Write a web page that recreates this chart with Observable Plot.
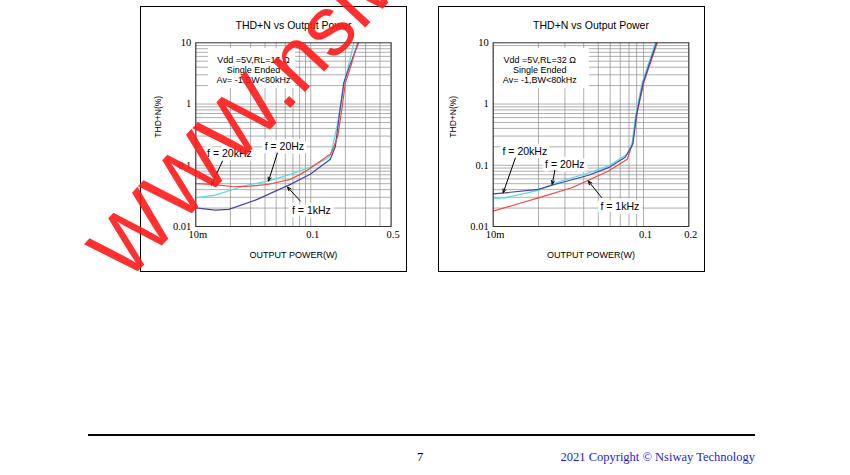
<!DOCTYPE html>
<html>
<head>
<meta charset="utf-8">
<script src="https://cdn.jsdelivr.net/npm/d3@7"></script>
<script src="https://cdn.jsdelivr.net/npm/@observablehq/plot@0.6"></script>
<style>
  html, body { margin: 0; padding: 0; background: #fff; }
  #page { position: relative; width: 850px; height: 475px; overflow: hidden; background: #fff; }
  .chart { position: absolute; }
  .box { position: absolute; border: 1.5px solid #000; box-sizing: border-box; pointer-events: none; }
  #rule { position: absolute; left: 88px; top: 434px; width: 667px; height: 2px; background: #000; }
  #pageno { position: absolute; left: 417px; top: 450px; font: 12.5px "Liberation Serif", serif; color: #000; }
  #copy { position: absolute; right: 95px; top: 450px; font: 12.5px "Liberation Serif", serif; color: #1d1dd8; white-space: nowrap; }
  #wm { position: absolute; left: 0; top: 0; pointer-events: none; }
</style>
</head>
<body>
<div id="page">
  <div id="left" class="chart" style="left:140px;top:6px"></div>
  <div class="box" style="left:140px;top:6px;width:267px;height:266px"></div>
  <div id="right" class="chart" style="left:438px;top:6px"></div>
  <div class="box" style="left:438px;top:6px;width:267px;height:266px"></div>
  <div id="rule"></div>
  <div id="pageno">7</div>
  <div id="copy">2021 Copyright © Nsiway Technology</div>
  <svg id="wm" width="850" height="475"></svg>
</div>
<script>
// ---------- shared text ----------
const chartTitle = "THD+N vs Output Power";
const xAxisLabel = "OUTPUT POWER(W)";
const yAxisLabel = "THD+N(%)";
const yTicks = [0.01, 0.1, 1, 10];
const yTickLabels = ["0.01", "0.1", "1", "10"];

// ---------- left chart: RL = 16 ohm ----------
const xTicksL = [0.01, 0.1, 0.5];
const xTickLabelsL = ["10m", "0.1", "0.5"];
const condL = "Vdd =5V,RL=16 Ω\nSingle Ended\nAv= -1,BW<80kHz";
const powerL_red  = [0.010, 0.0139, 0.0214, 0.030, 0.0431, 0.0665, 0.081, 0.096, 0.148, 0.158, 0.172, 0.186, 0.200, 0.222, 0.256];
const thdL_red    = [0.050, 0.0488, 0.0446, 0.0455, 0.049, 0.059, 0.071, 0.086, 0.151, 0.195, 0.30, 0.80, 2.2, 4.0, 10];
const powerL_cyan = [0.010, 0.0148, 0.0261, 0.0446, 0.0665, 0.099, 0.143, 0.150, 0.170, 0.194, 0.237];
const thdL_cyan   = [0.0294, 0.0326, 0.0458, 0.0568, 0.0711, 0.093, 0.133, 0.155, 0.45, 2.0, 10];
const powerL_blue = [0.010, 0.0148, 0.0194, 0.0342, 0.0665, 0.099, 0.148, 0.164, 0.177, 0.194, 0.215, 0.260];
const thdL_blue   = [0.0202, 0.0185, 0.019, 0.0277, 0.0488, 0.0711, 0.125, 0.205, 0.65, 2.26, 3.9, 10];
const freqLabelsL = ["f = 20kHz", "f = 20Hz", "f = 1kHz"];
const labelPowerL = [0.0196, 0.0590, 0.1014];
const labelThdL   = [0.153, 0.1995, 0.0185];
const arrowFromPowerL = [0.01707, 0.0513, 0.0813];
const arrowFromThdL   = [0.1176, 0.159, 0.026];
const arrowToPowerL   = [0.01369, 0.0429, 0.0627];
const arrowToThdL     = [0.0475, 0.0553, 0.044];
const condBoxL = {x1: 0.0129, x2: 0.0737, y1: 8.07, y2: 1.78, cx: 0.03175, cy: 3.65};

// ---------- right chart: RL = 32 ohm ----------
const xTicksR = [0.01, 0.1, 0.2];
const xTickLabelsR = ["10m", "0.1", "0.2"];
const condR = "Vdd =5V,RL=32 Ω\nSingle Ended\nAv= -1,BW<80kHz";
const powerR_blue = [0.010, 0.012, 0.020, 0.0259, 0.043, 0.0585, 0.0755, 0.0849, 0.0899, 0.0995, 0.1219];
const thdR_blue   = [0.0342, 0.0355, 0.0404, 0.0489, 0.0686, 0.0914, 0.135, 0.221, 0.686, 2.26, 10];
const powerR_cyan = [0.010, 0.012, 0.020, 0.0259, 0.043, 0.0585, 0.0779, 0.0841, 0.0885, 0.098, 0.120];
const thdR_cyan   = [0.0284, 0.0294, 0.0389, 0.0519, 0.0748, 0.0975, 0.151, 0.235, 0.645, 2.26, 10];
const powerR_red  = [0.010, 0.0155, 0.020, 0.0333, 0.043, 0.0585, 0.0779, 0.0841, 0.0908, 0.1005, 0.1234];
const thdR_red    = [0.0178, 0.0244, 0.0294, 0.043, 0.0568, 0.0807, 0.125, 0.221, 0.728, 2.26, 10];
const freqLabelsR = ["f = 20kHz", "f = 20Hz", "f = 1kHz"];
const labelPowerR = [0.01623, 0.02995, 0.0696];
const labelThdR   = [0.167, 0.1038, 0.0215];
const arrowFromPowerR = [0.01407, 0.0257, 0.0526];
const arrowFromThdR   = [0.1332, 0.0828, 0.0298];
const arrowToPowerR   = [0.01166, 0.0247, 0.0429];
const arrowToThdR     = [0.0356, 0.0488, 0.0553];
const condBoxR = {x1: 0.0102, x2: 0.0437, y1: 8.07, y2: 1.78, cx: 0.0204, cy: 3.65};

const RED = "#f04848", CYAN = "#4fdde6", BLUE = "#46469e";

function minorTicks(max) {
  const out = [];
  for (const d of [0.001, 0.01, 0.1, 1]) for (let k = 1; k <= 9; k++) {
    const v = +(d * k).toPrecision(3);
    if (v >= 0.01 - 1e-9 && v <= max + 1e-9) out.push(v);
  }
  return out;
}
const zip = (xs, ys) => xs.map((x, i) => ({x, y: ys[i]}));

function chart(o) {
  const labels = o.freqLabels.map((t, i) => ({t, x: o.labelPower[i], y: o.labelThd[i]}));
  const arrows = o.arrowFromPower.map((x1, i) => ({x1, y1: o.arrowFromThd[i], x2: o.arrowToPower[i], y2: o.arrowToThd[i]}));
  const xt = o.xTicks.map((v, i) => ({v, t: o.xTickLabels[i]}));
  const yt = yTicks.map((v, i) => ({v, t: yTickLabels[i]}));
  return Plot.plot({
    width: 267, height: 266,
    marginLeft: o.ml, marginRight: o.mr, marginTop: 36.3, marginBottom: 46,
    x: {type: "log", domain: o.xDomain, axis: null},
    y: {type: "log", domain: [0.01, 10], axis: null},
    style: {fontFamily: "'Liberation Sans', Arial, sans-serif", fontSize: "10px", color: "#000", background: "transparent", overflow: "visible"},
    marks: [
      Plot.gridX(minorTicks(o.xDomain[1]), {stroke: "#8c8c8c", strokeOpacity: 1, strokeWidth: 0.7}),
      Plot.gridY(minorTicks(10), {stroke: "#8c8c8c", strokeOpacity: 1, strokeWidth: 0.7}),
      Plot.rect([o.box], {x1: "x1", x2: "x2", y1: "y1", y2: "y2", fill: "white"}),
      ...o.series.map(s => Plot.line(zip(s.p, s.t), {x: "x", y: "y", stroke: s.c, strokeWidth: 1.2})),
      Plot.frame({stroke: "#333", strokeWidth: 1}),
      Plot.text(xt, {x: "v", text: "t", frameAnchor: "bottom", lineAnchor: "top", dy: 4, dx: 2,
        fontFamily: "'Liberation Serif', serif", fontSize: 10.5}),
      Plot.text(yt, {y: "v", text: "t", frameAnchor: "left", textAnchor: "end", dx: -4.5,
        fontFamily: "'Liberation Serif', serif", fontSize: 10.5}),
      Plot.text([o.cond], {x: o.box.cx, y: o.box.cy, text: d => d, fontSize: 9, lineHeight: 1.12}),
      Plot.arrow(arrows, {x1: "x1", y1: "y1", x2: "x2", y2: "y2", stroke: "#000", strokeWidth: 1, headLength: 6, headAngle: 45}),
      Plot.text(labels, {x: "x", y: "y", text: "t", fontSize: 10.5, fill: "#000", stroke: "white", strokeWidth: 7, paintOrder: "stroke"}),
      Plot.text([chartTitle], {frameAnchor: "top", dy: -21, fontSize: 10.5}),
      Plot.text([xAxisLabel], {frameAnchor: "bottom", dy: 31, fontSize: 9}),
      Plot.text([yAxisLabel], {frameAnchor: "left", dx: o.ylDx, dy: 3, rotate: -90, fontSize: 8.5})
    ]
  });
}

document.getElementById("left").append(chart({
  xDomain: [0.01, 0.5], ml: 55.3, mr: 16.4, ylDx: -38,
  xTicks: xTicksL, xTickLabels: xTickLabelsL, cond: condL, box: condBoxL,
  series: [
    {p: powerL_cyan, t: thdL_cyan, c: CYAN},
    {p: powerL_blue, t: thdL_blue, c: BLUE},
    {p: powerL_red, t: thdL_red, c: RED}
  ],
  freqLabels: freqLabelsL, labelPower: labelPowerL, labelThd: labelThdL,
  arrowFromPower: arrowFromPowerL, arrowFromThd: arrowFromThdL,
  arrowToPower: arrowToPowerL, arrowToThd: arrowToThdL
}));

document.getElementById("right").append(chart({
  xDomain: [0.01, 0.2], ml: 54.7, mr: 16.7, ylDx: -40,
  xTicks: xTicksR, xTickLabels: xTickLabelsR, cond: condR, box: condBoxR,
  series: [
    {p: powerR_red, t: thdR_red, c: RED},
    {p: powerR_cyan, t: thdR_cyan, c: CYAN},
    {p: powerR_blue, t: thdR_blue, c: BLUE}
  ],
  freqLabels: freqLabelsR, labelPower: labelPowerR, labelThd: labelThdR,
  arrowFromPower: arrowFromPowerR, arrowFromThd: arrowFromThdR,
  arrowToPower: arrowToPowerR, arrowToThd: arrowToThdR
}));

// ---------- watermark ----------
const watermark = "WWW.nsiway.com.cn";
const wm = d3.select("#wm");
wm.append("text")
  .attr("transform", "translate(126,284) rotate(-47)")
  .attr("font-family", "'Liberation Sans', Arial, sans-serif")
  .attr("font-size", 84)
  .attr("fill", "#ff1a1a")
  .attr("fill-opacity", 0.9)
  .text(watermark);
</script>
</body>
</html>
